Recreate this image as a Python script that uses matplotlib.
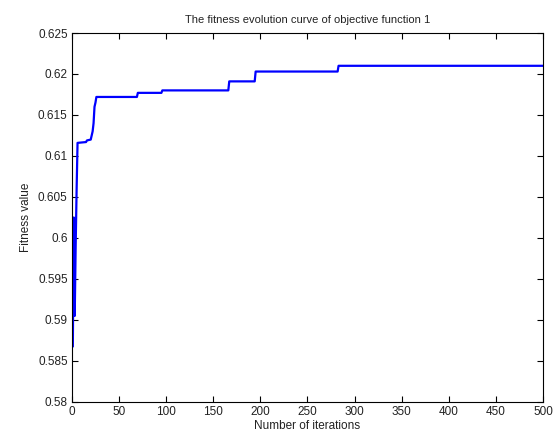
import matplotlib
matplotlib.use("Agg")
import matplotlib.pyplot as plt

# points (iteration, best fitness)
iterations = [1, 2, 3, 4, 5, 6, 15, 16, 20, 21, 22, 23, 24, 25, 26,
              69, 70, 95, 96, 166, 167, 194, 195, 282, 283, 500]
fitness = [0.5868, 0.6025, 0.5905, 0.5990, 0.6058, 0.6116,
           0.6117, 0.6119, 0.6120, 0.6125, 0.6130, 0.6140, 0.6160, 0.6165, 0.6172,
           0.6172, 0.6177, 0.6177, 0.6180, 0.6180, 0.6191, 0.6191, 0.6203,
           0.6203, 0.6210, 0.6210]

x_ticks = list(range(0, 501, 50))
y_ticks = [0.58, 0.585, 0.59, 0.595, 0.6, 0.605, 0.61, 0.615, 0.62, 0.625]
y_tick_labels = ["0.58", "0.585", "0.59", "0.595", "0.6", "0.605", "0.61",
                 "0.615", "0.62", "0.625"]

plt.rcParams['font.family'] = ['Liberation Sans', 'DejaVu Sans']
plt.rcParams['font.size'] = 8

fig = plt.figure(figsize=(5.53, 4.40), dpi=100)
ax = fig.add_axes([0.130, 0.0864, 0.852, 0.8386])

ax.plot(iterations, fitness, color=(0, 0, 1), linewidth=1.6)

ax.set_xlim(0, 500)
ax.set_ylim(0.58, 0.625)
ax.set_xticks(x_ticks)
ax.set_yticks(y_ticks)
ax.set_yticklabels(y_tick_labels)
ax.tick_params(direction='in', top=True, right=True, length=4, width=0.8,
               labelsize=8.5, pad=3, labelcolor='#222222')
for s in ax.spines.values():
    s.set_linewidth(0.8)

ax.set_title("The fitness evolution curve of objective function 1", fontsize=8,
             pad=7, color='#222222')
ax.set_xlabel("Number of iterations", fontsize=8.5, labelpad=1, color='#222222')
ax.set_ylabel("Fitness value", fontsize=8.5, labelpad=4, color='#222222')

fig.savefig("out.png", dpi=100, facecolor='white')
